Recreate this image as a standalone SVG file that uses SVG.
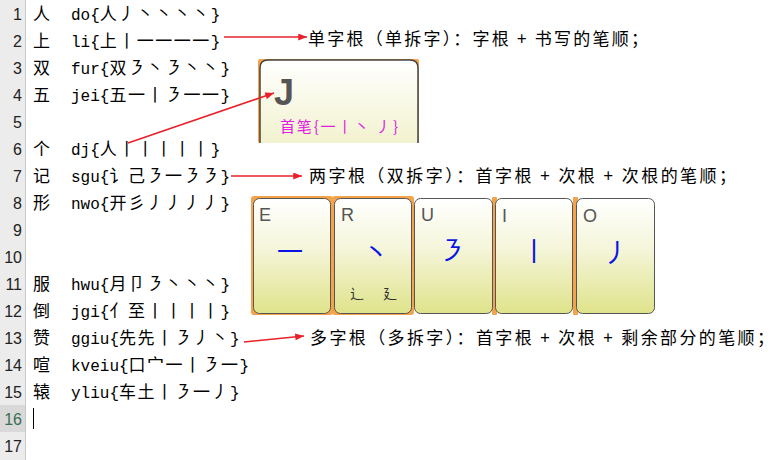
<svg xmlns="http://www.w3.org/2000/svg" width="781" height="460" viewBox="0 0 781 460">
<style>
.num{font-family:"Liberation Sans",sans-serif;font-size:16px;fill:#222;text-anchor:end}
.hz{font-family:"Noto Sans CJK SC",sans-serif;font-size:17px;fill:#000}
.code{font-family:"Liberation Mono","Noto Sans CJK SC",monospace;font-size:16px;fill:#000}
.cj{font-family:"Noto Sans CJK SC",sans-serif;font-size:17px;letter-spacing:1.5px}
.note{font-family:"Noto Sans CJK SC",sans-serif;font-size:17px;fill:#000}
.cap{font-family:"Liberation Sans",sans-serif;font-size:18px;fill:#555}
.stroke{font-family:"Noto Sans CJK SC",sans-serif;font-size:26px;font-weight:400;fill:#0a14e6;text-anchor:middle}
.key{fill:url(#kg);stroke:#555;stroke-width:1}
.org{fill:#f5a34a}
.arr{stroke:#e8202a;stroke-width:1.6;fill:none;marker-end:url(#ah)}
</style>
<defs>
<linearGradient id="kg" x1="0" y1="0" x2="0" y2="1">
<stop offset="0" stop-color="#ffffff"/>
<stop offset="0.45" stop-color="#f4f5d8"/>
<stop offset="1" stop-color="#dfe38a"/>
</linearGradient>
<linearGradient id="jg" x1="0" y1="0" x2="0" y2="1">
<stop offset="0" stop-color="#ffffff"/>
<stop offset="1" stop-color="#f2f2cf"/>
</linearGradient>
<marker id="ah" viewBox="0 0 10 8" refX="10" refY="4" markerWidth="9" markerHeight="7" markerUnits="userSpaceOnUse" orient="auto">
<path d="M0,0 L10,4 L0,8 z" fill="#e8202a"/>
</marker>
</defs>
<rect width="781" height="460" fill="#ffffff"/>
<g id="gutter">
<rect x="0" y="0" width="25" height="460" fill="#ececec"/>
<rect x="0" y="405" width="25" height="27" fill="#d9d9d9"/>
<line x1="25.5" y1="0" x2="25.5" y2="460" stroke="#c8c8c8"/>
<text class="num" x="22" y="20">1</text>
<text class="num" x="22" y="47">2</text>
<text class="num" x="22" y="74">3</text>
<text class="num" x="22" y="101">4</text>
<text class="num" x="22" y="128">5</text>
<text class="num" x="22" y="155">6</text>
<text class="num" x="22" y="182">7</text>
<text class="num" x="22" y="209">8</text>
<text class="num" x="22" y="236">9</text>
<text class="num" x="22" y="263">10</text>
<text class="num" x="22" y="290">11</text>
<text class="num" x="22" y="317">12</text>
<text class="num" x="22" y="344">13</text>
<text class="num" x="22" y="371">14</text>
<text class="num" x="22" y="398">15</text>
<text class="num" x="22" y="425" style="fill:#3a6e56">16</text>
<text class="num" x="22" y="452">17</text>
</g>
<g id="code">
<g id="line1"><text class="hz" x="33" y="20">人</text><text class="code" x="71" y="20">do{<tspan class="cj">人丿丶丶丶丶</tspan>}</text></g>
<g id="line2"><text class="hz" x="33" y="47">上</text><text class="code" x="71" y="47">li{<tspan class="cj">上丨一一一一</tspan>}</text></g>
<g id="line3"><text class="hz" x="33" y="74">双</text><text class="code" x="71" y="74">fur{<tspan class="cj">双㇋丶㇋丶丶</tspan>}</text></g>
<g id="line4"><text class="hz" x="33" y="101">五</text><text class="code" x="71" y="101">jei{<tspan class="cj">五一丨㇋一一</tspan>}</text></g>
<g id="line6"><text class="hz" x="33" y="155">个</text><text class="code" x="71" y="155">dj{<tspan class="cj">人丨丨丨丨丨</tspan>}</text></g>
<g id="line7"><text class="hz" x="33" y="182">记</text><text class="code" x="71" y="182">sgu{<tspan class="cj">讠己㇋一㇋㇋</tspan>}</text></g>
<g id="line8"><text class="hz" x="33" y="209">形</text><text class="code" x="71" y="209">nwo{<tspan class="cj">开彡丿丿丿丿</tspan>}</text></g>
<g id="line11"><text class="hz" x="33" y="290">服</text><text class="code" x="71" y="290">hwu{<tspan class="cj">月卩㇋丶丶丶</tspan>}</text></g>
<g id="line12"><text class="hz" x="33" y="317">倒</text><text class="code" x="71" y="317">jgi{<tspan class="cj">亻至丨丨丨丨</tspan>}</text></g>
<g id="line13"><text class="hz" x="33" y="344">赞</text><text class="code" x="71" y="344">ggiu{<tspan class="cj">先先丨㇋丿丶</tspan>}</text></g>
<g id="line14"><text class="hz" x="33" y="371">喧</text><text class="code" x="71" y="371">kveiu{<tspan class="cj">口宀一丨㇋一</tspan>}</text></g>
<g id="line15"><text class="hz" x="33" y="398">辕</text><text class="code" x="71" y="398">yliu{<tspan class="cj">车土丨㇋一丿</tspan>}</text></g>
<line id="cursor" x1="33.5" y1="408" x2="33.5" y2="429" stroke="#000" stroke-width="1"/>
</g>
<g id="key-J">
<rect class="org" x="258" y="59" width="161" height="84" rx="2"/>
<path d="M260,143 V68 Q260,60 268,60 H410 Q418,60 418,68 V143 Z" fill="url(#jg)"/>
<path d="M260,143 V68 Q260,60 268,60 H410 Q418,60 418,68 V143" fill="none" stroke="#444" stroke-width="1.5"/>
<text x="274" y="105" font-family="Liberation Sans, sans-serif" font-size="36" font-weight="bold" fill="#555">J</text>
<text x="280" y="132" font-family="Noto Sans CJK SC, sans-serif" font-size="15" fill="#e020e0" textLength="118" lengthAdjust="spacing">首笔{一丨丶 丿}</text>
</g>
<g id="keys">
<rect class="org" x="251" y="196" width="82" height="119" rx="3"/>
<rect class="org" x="332" y="196" width="82" height="119" rx="3"/>
<rect class="org" x="492" y="197" width="5" height="118" rx="1"/>
<rect class="org" x="573" y="197" width="5" height="118" rx="1"/>
<g id="key-E">
<rect class="key" x="253.5" y="198.5" width="77" height="115" rx="6"/>
<text class="cap" x="259" y="221">E</text>
<text class="stroke" x="290" y="261">一</text>
</g>
<g id="key-R">
<rect class="key" x="334.5" y="198.5" width="77" height="115" rx="6"/>
<text class="cap" x="341" y="221">R</text>
<text class="stroke" x="376" y="262">丶</text>
<text x="350" y="299" font-family="Noto Sans CJK SC, sans-serif" font-size="14" fill="#333">辶</text>
<text x="383" y="299" font-family="Noto Sans CJK SC, sans-serif" font-size="14" fill="#333">廴</text>
</g>
<g id="key-U">
<rect class="key" x="414.5" y="198.5" width="78" height="115" rx="6"/>
<text class="cap" x="421" y="221">U</text>
<text class="stroke" x="452" y="260">㇋</text>
</g>
<g id="key-I">
<rect class="key" x="495.5" y="198.5" width="77" height="115" rx="6"/>
<text class="cap" x="502" y="222">I</text>
<text class="stroke" x="534" y="261">丨</text>
</g>
<g id="key-O">
<rect class="key" x="576.5" y="198.5" width="78" height="115" rx="6"/>
<text class="cap" x="583" y="222">O</text>
<text class="stroke" x="616" y="262">丿</text>
</g>
</g>
<g id="notes">
<text class="note" x="308" y="45" textLength="340" lengthAdjust="spacing">单字根（单拆字）：字根 + 书写的笔顺；</text>
<text class="note" x="309" y="182" textLength="427" lengthAdjust="spacing">两字根（双拆字）：首字根 + 次根 + 次根的笔顺；</text>
<text class="note" x="310" y="344" textLength="464" lengthAdjust="spacing">多字根（多拆字）：首字根 + 次根 + 剩余部分的笔顺；</text>
</g>
<g id="connectors">
<line class="arr" x1="224" y1="37" x2="307" y2="37"/>
<line class="arr" x1="128" y1="143" x2="274" y2="93"/>
<line class="arr" x1="231" y1="176" x2="302" y2="176"/>
<line class="arr" x1="244" y1="342" x2="304" y2="336"/>
</g>
</svg>
